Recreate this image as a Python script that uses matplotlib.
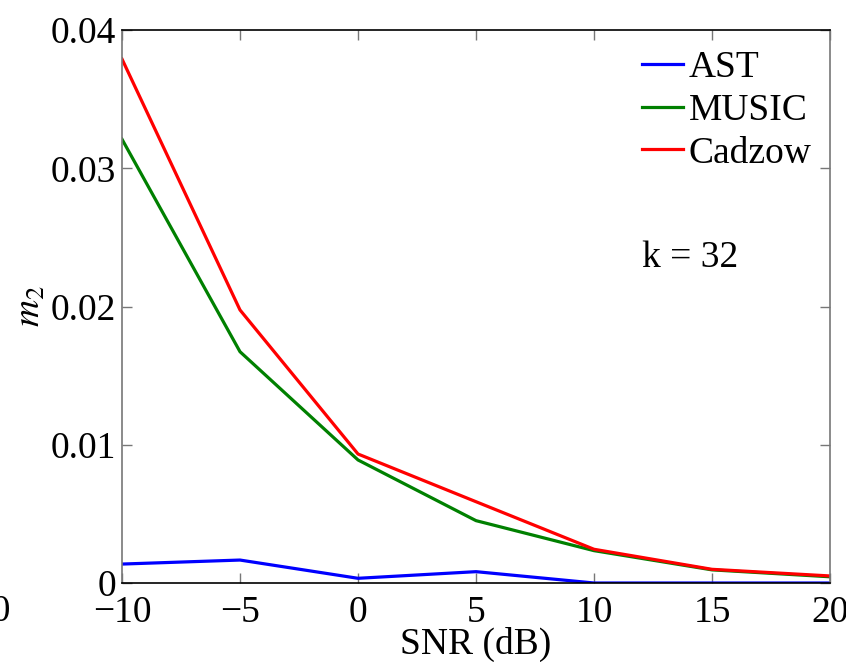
import matplotlib
matplotlib.use("Agg")
import matplotlib.pyplot as plt

# SNR sweep and second-moment error for each estimator (k = 32)
snr_db = [-10, -5, 0, 5, 10, 15, 20]
ast = [0.00137, 0.00166, 0.00034, 0.00082, 0.0, 0.0, 0.0]
music = [0.0321, 0.01673, 0.0089, 0.00451, 0.00234, 0.00095, 0.00045]
cadzow = [0.0379, 0.01975, 0.00933, 0.00588, 0.00244, 0.00099, 0.00051]

x_ticks = [-10, -5, 0, 5, 10, 15, 20]
y_ticks = [0, 0.01, 0.02, 0.03, 0.04]
y_tick_labels = ["0", "0.01", "0.02", "0.03", "0.04"]

plt.rcParams["font.family"] = ["Liberation Serif", "DejaVu Serif"]
plt.rcParams["mathtext.fontset"] = "stix"

fs = 27
fig = plt.figure(figsize=(8.46, 6.62), dpi=100)
ax = fig.add_axes([122 / 846, 79 / 662, 708 / 846, 553 / 662])

lw = 2.3
ax.plot(snr_db, ast, color=(0, 0, 1), lw=lw, label="AST", solid_joinstyle="round")
ax.plot(snr_db, music, color=(0, 0.5, 0), lw=lw, label="MUSIC", solid_joinstyle="round")
ax.plot(snr_db, cadzow, color=(1, 0, 0), lw=lw, label="Cadzow", solid_joinstyle="round")

ax.set_xlim(-10, 20)
ax.set_ylim(0, 0.04)
ax.set_xticks(x_ticks)
ax.set_yticks(y_ticks)
ax.set_yticklabels(y_tick_labels)
ax.tick_params(direction="in", length=7, width=1, color="#777777",
               top=True, right=True, labelsize=fs)
ax.tick_params(axis="x", pad=9)
ax.tick_params(axis="y", pad=4)
for side in ("left", "right"):
    ax.spines[side].set_color("#777777")
for side in ("top", "bottom"):
    ax.spines[side].set_color("black")
for s in ax.spines.values():
    s.set_linewidth(1.2)

ax.set_xlabel("SNR (dB)", fontsize=fs, labelpad=-2)
ax.set_ylabel(r"$m_2$", fontsize=fs, labelpad=2)

leg = ax.legend(loc="upper right", frameon=False, fontsize=fs,
                handlelength=1.1, handletextpad=0.15, labelspacing=0.22,
                borderaxespad=0.0, bbox_to_anchor=(0.995, 0.99))

ax.text(0.802, 0.588, "k = 32", transform=ax.transAxes, fontsize=fs,
        ha="center", va="center")

# trailing digit of a neighbouring panel's tick label
fig.text(11 / 846, 1 - 612 / 662, "20", fontsize=fs, ha="right", va="center")

fig.savefig("out.png", dpi=100)
